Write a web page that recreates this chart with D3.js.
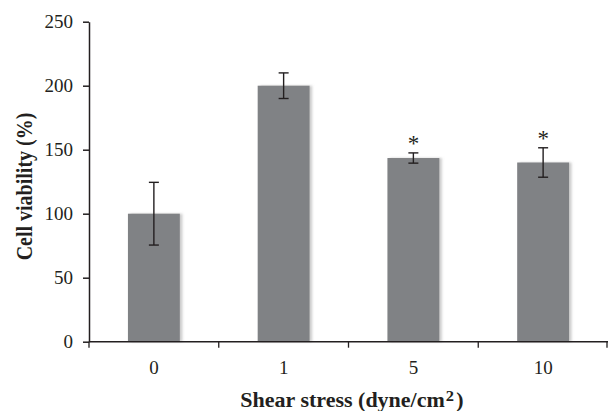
<!DOCTYPE html>
<html>
<head>
<meta charset="utf-8">
<script src="https://cdn.jsdelivr.net/npm/d3@7"></script>
<style>
  body { margin: 0; background: #fff; }
  text { font-family: "Liberation Serif", "Times New Roman", serif; fill: #231f20; }
</style>
</head>
<body>
<div id="chart"></div>
<script>
/* Cell viability vs shear stress, bars with error bars */

const categories = ["0", "1", "5", "10"];
const means = [100, 200, 143.5, 140];
const errors = [24.5, 10, 4, 11.5];
const stars = [false, false, true, true];
const yTicks = [0, 50, 100, 150, 200, 250];

const data = categories.map((c, i) => ({cat: c, mean: means[i], err: errors[i], star: stars[i]}));

const width = 608,
      height = 411,
      margin = ({top: 21.7, right: 0, bottom: 69.3, left: 89});

let svg = d3.select("#chart")
    .append("svg")
    .attr("width", width)
    .attr("height", height);

// soft grey edge on the right of each bar
let filter = svg.append("defs").append("filter")
    .attr("id", "shade")
    .attr("x", "-20%").attr("width", "140%");
filter.append("feDropShadow")
    .attr("dx", 2.5).attr("dy", 0)
    .attr("stdDeviation", 1.2)
    .attr("flood-color", "#9a9a9a")
    .attr("flood-opacity", 0.5);

let x = d3.scaleBand()
    .domain(categories)
    .range([margin.left, width - margin.right])
    .padding(0);

let y = d3.scaleLinear()
    .domain([0, 250])
    .range([height - margin.bottom, margin.top]);

const barW = x.bandwidth() * 0.4;
const cx = d => x(d.cat) + x.bandwidth() / 2;

// bars
svg.selectAll(".bar")
    .data(data)
    .join("rect")
    .attr("class", "bar")
    .attr("fill", "#808285")
    .attr("filter", "url(#shade)")
    .attr("x", d => cx(d) - barW / 2)
    .attr("width", barW)
    .attr("y", d => y(d.mean))
    .attr("height", d => y(0) - y(d.mean));

// error bars
let eb = svg.selectAll(".err")
    .data(data)
    .join("g")
    .attr("class", "err")
    .attr("stroke", "#231f20")
    .attr("stroke-width", 1.4);

eb.append("line")
    .attr("x1", cx).attr("x2", cx)
    .attr("y1", d => y(d.mean + d.err))
    .attr("y2", d => y(d.mean - d.err));
eb.append("line")
    .attr("x1", d => cx(d) - 5).attr("x2", d => cx(d) + 5)
    .attr("y1", d => y(d.mean + d.err)).attr("y2", d => y(d.mean + d.err));
eb.append("line")
    .attr("x1", d => cx(d) - 5).attr("x2", d => cx(d) + 5)
    .attr("y1", d => y(d.mean - d.err)).attr("y2", d => y(d.mean - d.err));

// significance marks
svg.selectAll(".star")
    .data(data.filter(d => d.star))
    .join("text")
    .attr("class", "star")
    .attr("x", cx)
    .attr("y", d => y(d.mean + d.err) - 2)
    .attr("text-anchor", "middle")
    .style("font-size", "23px")
    .text("*");

// y axis
const yAxis = g => g
    .attr("transform", `translate(${margin.left},0)`)
    .call(d3.axisLeft(y).tickValues(yTicks).tickSize(6).tickSizeOuter(0).tickPadding(10))
    .call(g => g.selectAll("path, line").attr("stroke", "#231f20").attr("stroke-width", 1.5))
    .call(g => g.selectAll("text").style("font-size", "19px").attr("fill", "#231f20"));

svg.append("g").call(yAxis);

// x axis: labels in the middle of each band, ticks on band edges
const xAxis = g => g
    .attr("transform", `translate(0,${y(0)})`)
    .call(d3.axisBottom(x).tickSize(0).tickPadding(19))
    .call(g => g.select(".domain").remove())
    .call(g => g.selectAll("text").style("font-size", "19px").attr("fill", "#231f20"));

let xg = svg.append("g").call(xAxis);

xg.append("line")
    .attr("x1", x.range()[0]).attr("x2", x.range()[1])
    .attr("stroke", "#231f20").attr("stroke-width", 1.5);

xg.selectAll(".edge")
    .data(categories.map(c => x(c)).concat([x.range()[1] - 1]))
    .join("line")
    .attr("class", "edge")
    .attr("x1", d => d).attr("x2", d => d)
    .attr("y1", 0).attr("y2", 6)
    .attr("stroke", "#231f20").attr("stroke-width", 1.3);

// axis titles
svg.append("text")
    .attr("transform", `translate(32,186.5) scale(1.12,1) rotate(-90)`)
    .attr("text-anchor", "middle")
    .style("font-size", "20px")
    .style("font-weight", "bold")
    .text("Cell viability (%)");

let xt = svg.append("text")
    .attr("transform", `translate(352,407) scale(1.1,1)`)
    .attr("text-anchor", "middle")
    .style("font-size", "20px")
    .style("font-weight", "bold");
xt.append("tspan").text("Shear stress (dyne/cm");
xt.append("tspan").attr("dy", -6).attr("dx", 1).style("font-size", "15px").text("2");
xt.append("tspan").attr("dy", 6).attr("dx", 2).text(")");
</script>
</body>
</html>
